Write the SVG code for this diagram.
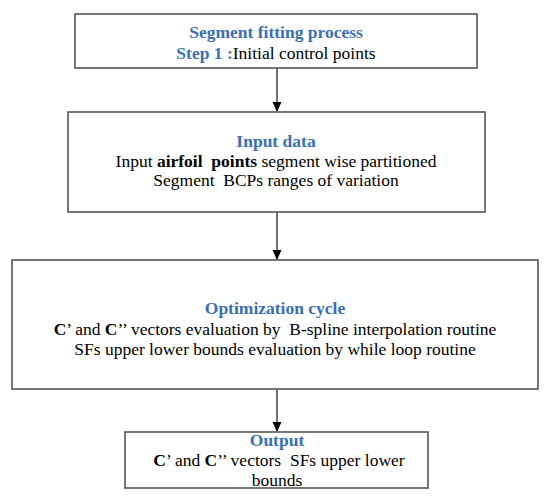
<svg xmlns="http://www.w3.org/2000/svg" width="550" height="496" viewBox="0 0 550 496">
<defs>
<marker id="arr" markerWidth="9" markerHeight="10" refX="9" refY="4.5" orient="auto" markerUnits="userSpaceOnUse">
<path d="M0,0 L10,4.5 L0,9 Z" fill="#000"/>
</marker>
<style>
.box{fill:#fff;stroke:#555;stroke-width:1.6}
text{font-family:"Liberation Serif","Times New Roman",serif;font-size:17.5px;fill:#000;text-anchor:middle;white-space:pre}
.t{font-weight:bold;fill:#3A6FB4}
.b{font-weight:bold}
.c{stroke:#222;stroke-width:1.3;fill:none}
</style>
</defs>
<rect width="550" height="496" fill="#fff"/>
<g id="connectors">
<line class="c" x1="277" y1="68" x2="277" y2="111" marker-end="url(#arr)"/>
<line class="c" x1="277" y1="212" x2="277" y2="259" marker-end="url(#arr)"/>
<line class="c" x1="277" y1="389" x2="277" y2="431" marker-end="url(#arr)"/>
</g>
<g id="node-segment-fitting">
<rect class="box" x="75" y="14" width="402" height="54"/>
<text x="276" y="38" class="t">Segment fitting process</text>
<text x="276" y="59"><tspan class="t">Step 1 :</tspan>Initial control points</text>
</g>
<g id="node-input-data">
<rect class="box" x="68" y="112" width="417" height="100"/>
<text x="276" y="147" class="t">Input data</text>
<text x="276" y="167">Input <tspan class="b">airfoil  points</tspan> segment wise partitioned</text>
<text x="276" y="186">Segment  BCPs ranges of variation</text>
</g>
<g id="node-optimization">
<rect class="box" x="12" y="260" width="526" height="129"/>
<text x="275" y="314" class="t">Optimization cycle</text>
<text x="275" y="335"><tspan class="b">C</tspan>’ and <tspan class="b">C</tspan>’’ vectors evaluation by  B-spline interpolation routine</text>
<text x="275" y="355">SFs upper lower bounds evaluation by while loop routine</text>
</g>
<g id="node-output">
<rect class="box" x="125" y="432" width="303" height="56"/>
<text x="277" y="446" class="t">Output</text>
<text x="279" y="466"><tspan class="b">C</tspan>’ and <tspan class="b">C</tspan>’’ vectors  SFs upper lower</text>
<text x="277" y="486">bounds</text>
</g>
</svg>
